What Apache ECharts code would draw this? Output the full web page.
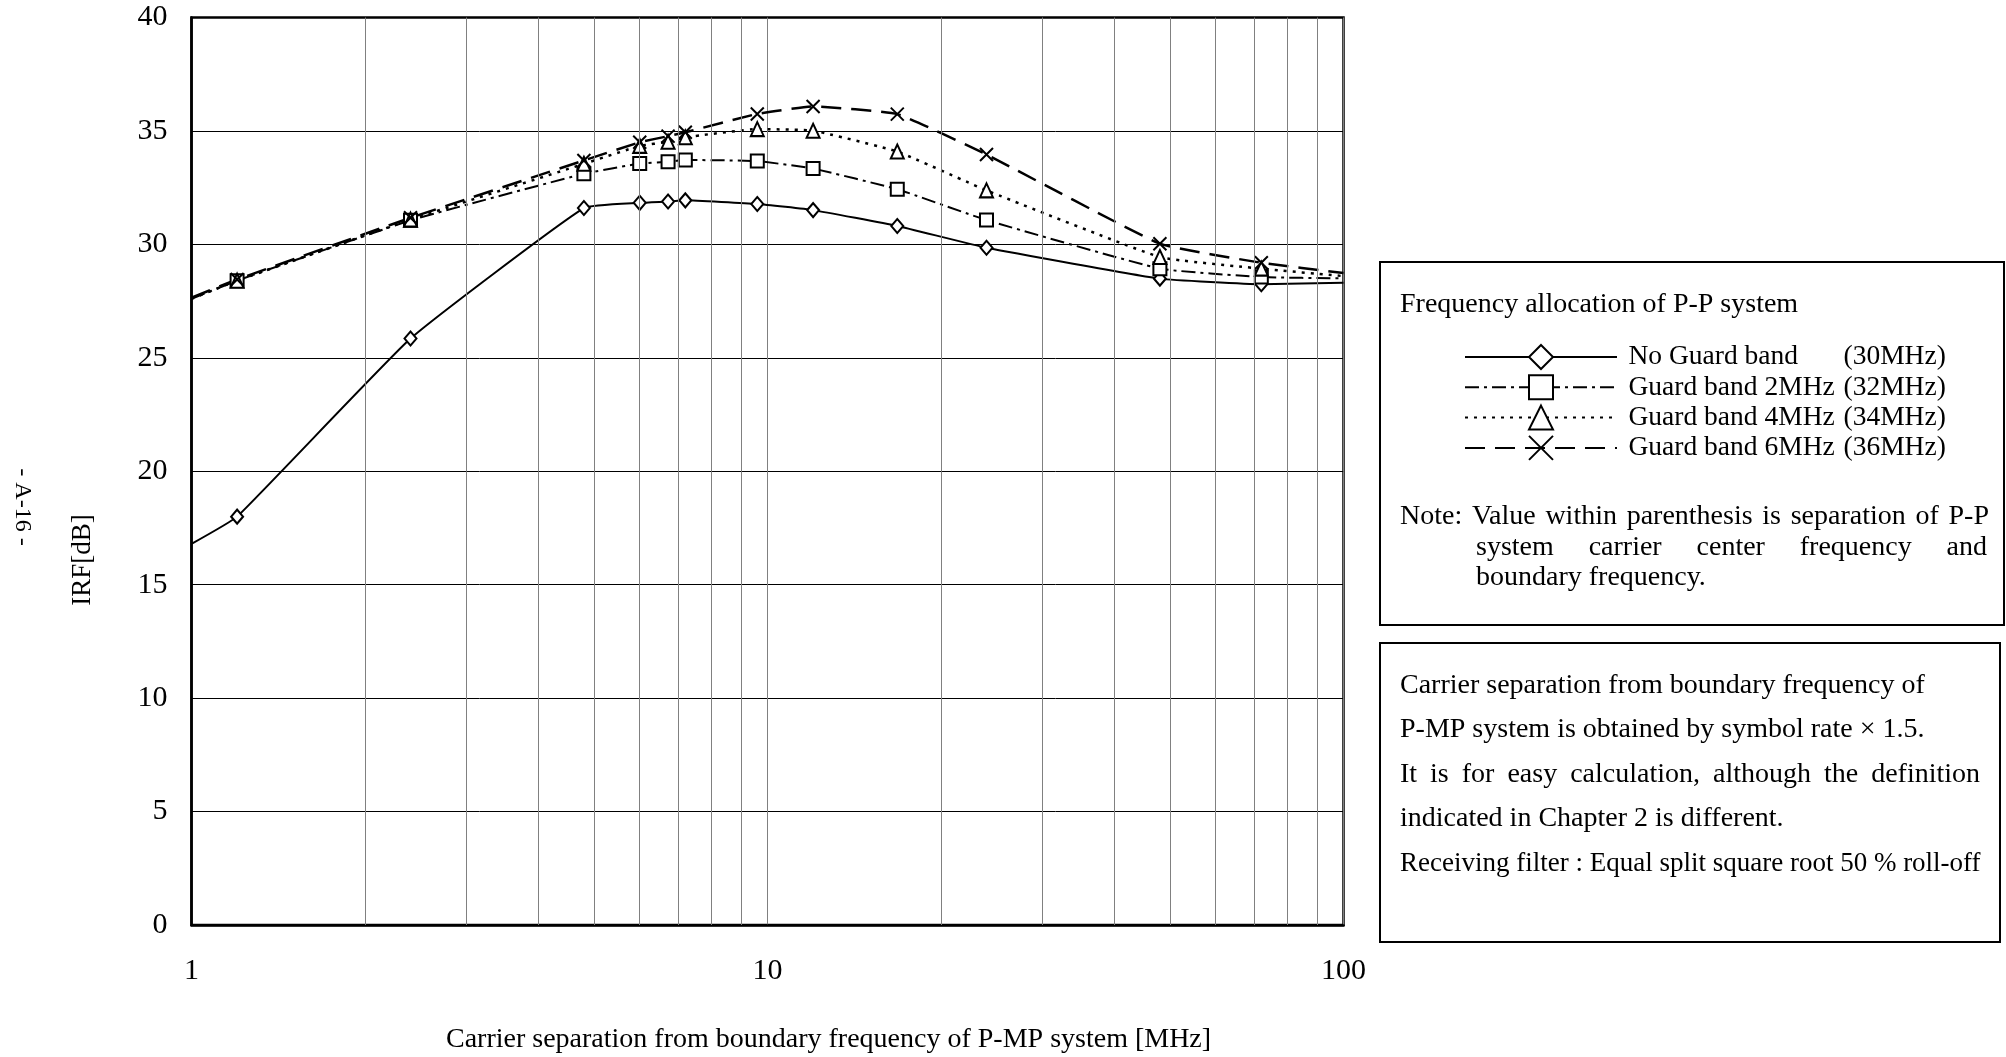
<!DOCTYPE html>
<html>
<head>
<meta charset="utf-8">
<title>IRF vs carrier separation</title>
<script src="https://cdn.jsdelivr.net/npm/echarts@6/dist/echarts.min.js"></script>
<style>
  html, body { margin: 0; padding: 0; background: #fff; }
  #main { width: 2006px; height: 1057px; }
</style>
</head>
<body>
<div id="main"></div>
<script>
// carrier separation [MHz]; first and last entries are the line ends (no marker)
const separation = [1, 1.2, 2.4, 4.8, 6, 6.72, 7.2, 9.6, 12, 16.8, 24, 48, 72, 100];
// IRF [dB]
const noGuard = [16.8, 18.0, 25.85, 31.6, 31.83, 31.89, 31.94, 31.78, 31.51, 30.81, 29.85, 28.49, 28.24, 28.31];
const guard2 = [27.6, 28.4, 31.06, 33.11, 33.56, 33.64, 33.72, 33.67, 33.34, 32.43, 31.07, 28.93, 28.56, 28.5];
const guard4 = [27.6, 28.4, 31.09, 33.55, 34.34, 34.52, 34.72, 35.08, 35.01, 34.09, 32.38, 29.44, 28.93, 28.6];
const guard6 = [27.65, 28.45, 31.17, 33.7, 34.5, 34.77, 34.94, 35.75, 36.08, 35.74, 33.96, 30.03, 29.19, 28.74];

const seriesNames = ['No Guard band', 'Guard band 2MHz', 'Guard band 4MHz', 'Guard band 6MHz'];
const seriesSep = ['(30MHz)', '(32MHz)', '(34MHz)', '(36MHz)'];
const minorGrid = [2, 3, 4, 5, 6, 7, 8, 9, 20, 30, 40, 50, 60, 70, 80, 90];

const serif = 'Liberation Serif';
const xMark = 'path://M0,0L10,10M10,0L0,10';

function makeSeries(name, values, symbol, size, dash, width) {
  const last = separation.length - 1;
  return {
    name: name,
    type: 'line',
    smooth: 0.12,
    z: 3,
    data: separation.map((x, i) =>
      (i === 0 || i === last) ? { value: [x, values[i]], symbol: 'none' } : [x, values[i]]),
    symbol: symbol,
    symbolSize: size,
    lineStyle: { color: '#000', width: width, type: dash },
    itemStyle: {
      color: symbol === xMark ? '#000' : '#fff',
      borderColor: '#000',
      borderWidth: 2,
    },
    emphasis: { disabled: true },
  };
}

// justify one line of words between x0 and x1 (like the word processor box)
const measure = document.createElement('canvas').getContext('2d');
function justified(text, x0, x1, y, size) {
  measure.font = size + 'px "' + serif + '"';
  const words = text.split(' ');
  const widths = words.map(w => measure.measureText(w).width);
  const total = widths.reduce((a, b) => a + b, 0);
  const gap = Math.max((x1 - x0 - total) / (words.length - 1), size * 0.2);
  let x = x0;
  return words.map((w, i) => {
    const el = plain(w, x, y, size);
    x += widths[i] + gap;
    return el;
  });
}
function plain(text, x, y, size, extra) {
  return Object.assign({
    type: 'text',
    x: x,
    y: y,
    silent: true,
    style: { text: text, fontSize: size, fontFamily: serif, fill: '#000', verticalAlign: 'middle' },
  }, extra || {});
}

const myChart = echarts.init(document.getElementById('main'));
myChart.setOption({
  animation: false,
  backgroundColor: '#fff',
  grid: {
    left: 191.5,
    right: 662.5,
    top: 17.5,
    bottom: 132,
    show: true,
    borderColor: '#000',
    borderWidth: 2.5,
  },
  legend: {
    data: seriesNames,
    orient: 'vertical',
    left: 1459,
    top: 338,
    itemWidth: 152,
    itemHeight: 30,
    itemGap: 2.3,
    selectedMode: false,
    formatter: name => '{a|' + name + '}{b|' + seriesSep[seriesNames.indexOf(name)] + '}',
    textStyle: {
      color: '#000',
      fontFamily: serif,
      fontSize: 27.5,
      padding: [0, 0, 0, 6.5],
      rich: {
        a: { width: 215, fontSize: 27.5, fontFamily: serif, color: '#000' },
        b: { fontSize: 27.5, fontFamily: serif, color: '#000' },
      },
    },
  },
  xAxis: {
    type: 'log',
    logBase: 10,
    min: 1,
    max: 100,
    axisLine: { show: true, lineStyle: { color: '#000', width: 2.5 } },
    axisTick: { show: false },
    axisLabel: { margin: 31, fontSize: 30, fontFamily: serif, color: '#000' },
    splitLine: { show: true, lineStyle: { color: '#808080', width: 1 } },
  },
  yAxis: {
    type: 'value',
    min: 0,
    max: 40,
    interval: 5,
    axisLine: { show: true, lineStyle: { color: '#000', width: 2.5 } },
    axisTick: { show: false },
    axisLabel: { margin: 24, fontSize: 30, fontFamily: serif, color: '#000' },
    splitLine: { show: true, lineStyle: { color: '#000', width: 1 } },
  },
  series: [
    {
      name: 'minor',
      type: 'line',
      data: [],
      z: 1,
      silent: true,
      markLine: {
        silent: true,
        symbol: ['none', 'none'],
        label: { show: false },
        lineStyle: { color: '#808080', width: 1, type: 'solid' },
        emphasis: { disabled: true },
        data: minorGrid.map(v => ({ xAxis: v })),
      },
    },
    makeSeries(seriesNames[0], noGuard, 'diamond', [12, 14], 'solid', 2),
    makeSeries(seriesNames[1], guard2, 'rect', [13, 13], [14, 5, 3, 5], 2),
    makeSeries(seriesNames[2], guard4, 'triangle', [13, 14], [3, 6], 2.5),
    makeSeries(seriesNames[3], guard6, xMark, [13, 13], [20, 10], 2.5),
  ],
  graphic: [
    // axis titles and page number
    plain('IRF[dB]', 83, 560, 27, { rotation: Math.PI / 2, style: { text: 'IRF[dB]', fontSize: 27, fontFamily: serif, fill: '#000', align: 'center', verticalAlign: 'middle' } }),
    plain('- A-16 -', 22, 507, 24, { rotation: -Math.PI / 2, style: { text: '- A-16 -', fontSize: 24, fontFamily: serif, fill: '#000', align: 'center', verticalAlign: 'middle' } }),
    plain('Carrier separation from boundary frequency of P-MP system [MHz]', 446, 1040, 28),
    // box with legend and note
    { type: 'rect', silent: true, shape: { x: 1380, y: 262, width: 624, height: 363 }, style: { fill: 'none', stroke: '#000', lineWidth: 2 } },
    plain('Frequency allocation of P-P system', 1400, 305, 28),
    ...justified('Note: Value within parenthesis is separation of P-P', 1400, 1989, 517, 28),
    ...justified('system carrier center frequency and', 1476, 1987, 547.5, 28),
    plain('boundary frequency.', 1476, 578, 28),
    // box with explanation
    { type: 'rect', silent: true, shape: { x: 1380, y: 643, width: 620, height: 299 }, style: { fill: 'none', stroke: '#000', lineWidth: 2 } },
    plain('Carrier separation from boundary frequency of', 1400, 686, 28),
    plain('P-MP system is obtained by symbol rate \u00d7 1.5.', 1400, 730, 28),
    ...justified('It is for easy calculation, although the definition', 1400, 1980, 774.5, 28),
    plain('indicated in Chapter 2 is different.', 1400, 819, 28),
    plain('Receiving filter : Equal split square root 50 % roll-off', 1400, 863.5, 27),
  ],
});
</script>
</body>
</html>
